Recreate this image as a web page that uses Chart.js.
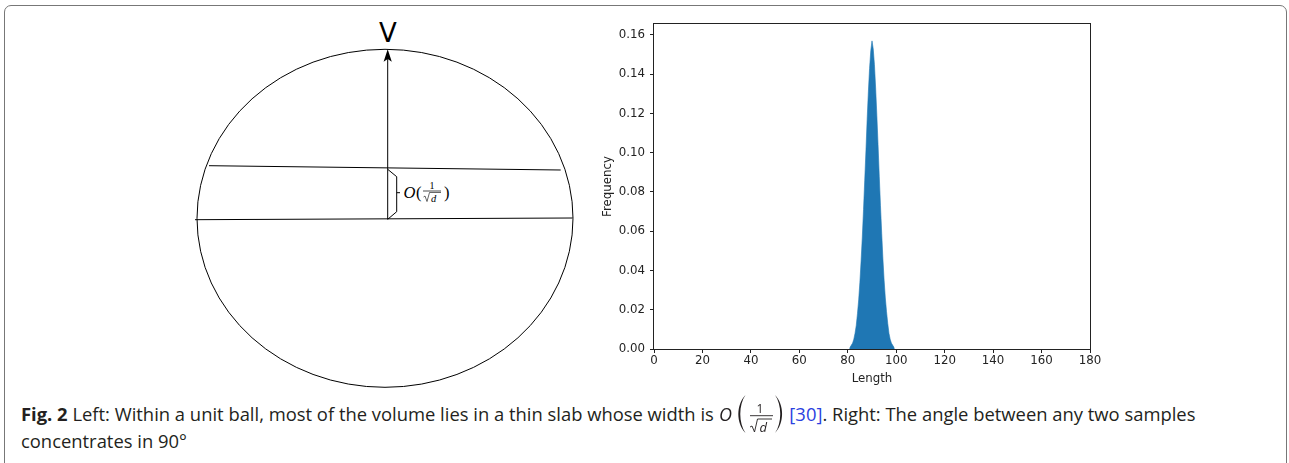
<!DOCTYPE html>
<html>
<head>
<meta charset="utf-8">
<script src="https://cdn.jsdelivr.net/npm/chart.js@4.4.0/dist/chart.umd.min.js"></script>
<style>
  body { margin: 0; width: 1289px; height: 463px; background: #fff; position: relative; overflow: hidden; }
  #frame { position: absolute; left: 4px; top: 5px; width: 1281px; height: 520px; border: 1.5px solid #777; border-radius: 7px; }
  #diagram { position: absolute; left: 0; top: 0; }
  #wrap { position: absolute; left: 590px; top: 20px; width: 520px; height: 375px; }
  .cap { position: absolute; left: 21px; font-family: 'Open Sans', sans-serif; font-size: 18.4px; line-height: 20px; color: #231f20; white-space: nowrap; }
  .math { display: inline-block; position: relative; width: 66px; height: 16px; }
  .math svg { position: absolute; left: 0; top: -12px; overflow: visible; }
  .ref { color: #2b3fe0; }
</style>
</head>
<body>
<div id="frame"></div>

<svg id="diagram" width="600" height="400">
  <g fill="none" stroke="#000" stroke-width="1">
    <ellipse cx="385" cy="218.3" rx="188" ry="169"></ellipse>
    <line x1="209" y1="165.7" x2="560.7" y2="170"></line>
    <line x1="195" y1="219.7" x2="572.7" y2="218"></line>
    <line x1="387.7" y1="219.3" x2="387.7" y2="58"></line>
    <path d="M387.7,169.3 L396.7,176.7 L396.7,211.7 L387.7,219.3"></path>
    <line x1="396.7" y1="192.7" x2="400" y2="192.7"></line>
  </g>
  <path d="M387.7,49.3 L391.8,61.7 L387.7,59 L383.6,61.7 Z" fill="#000"></path>
  <text x="388" y="42" text-anchor="middle" font-family="DejaVu Sans" font-size="26">V</text>
  <g font-family="Liberation Serif" fill="#000">
    <text x="403.5" y="198" font-size="16.5" font-style="italic">O</text>
    <text x="416" y="198" font-size="16.5">(</text>
    <text x="432" y="188.5" font-size="10" text-anchor="middle">1</text>
    <line x1="423" y1="191" x2="441" y2="191" stroke="#000" stroke-width="0.7"></line>
    <path d="M423.5,197 L425,196 L427,201.5 L429.5,192.5 L441,192.5" fill="none" stroke="#000" stroke-width="0.6"></path>
    <text x="431" y="201.5" font-size="10.5" font-style="italic">d</text>
    <text x="444" y="198" font-size="16.5">)</text>
  </g>
</svg>

<div id="wrap"><canvas id="hist"></canvas></div>

<div class="cap" style="top:404px"><b>Fig. 2</b> Left: Within a unit ball, most of the volume lies in a thin slab whose width is <span class="math"><svg width="66" height="40">
  <text x="0" y="28" font-family="Open Sans" font-size="18" font-style="italic" fill="#231f20">O</text>
  <path d="M26.5,2 C17,12 17,30 26.5,40 C19.5,30 19.5,12 26.5,2 Z" fill="#231f20"></path>
  <text x="41" y="20" font-family="Open Sans" font-size="12" text-anchor="middle" fill="#231f20">1</text>
  <line x1="31" y1="22.7" x2="54" y2="22.7" stroke="#231f20" stroke-width="0.9"></line>
  <path d="M31,34 L33,33 L35.5,39 L38.5,26 L53,26" fill="none" stroke="#231f20" stroke-width="0.9"></path>
  <text x="40.5" y="38.5" font-family="Open Sans" font-size="13" font-style="italic" fill="#231f20">d</text>
  <path d="M56,2 C65.5,12 65.5,30 56,40 C63,30 63,12 56,2 Z" fill="#231f20"></path>
</svg></span> <span class="ref">[30]</span>. Right: The angle between any two samples</div>
<div class="cap" style="top:431px">concentrates in 90°</div>

<script>
// angle histogram, bin width 0.5 degrees
const binWidth = 0.5;
const binCenters = [81.0, 81.5, 82.0, 82.5, 83.0, 83.5, 84.0, 84.5, 85.0, 85.5,
  86.0, 86.5, 87.0, 87.5, 88.0, 88.5, 89.0, 89.5, 90.0, 90.5,
  91.0, 91.5, 92.0, 92.5, 93.0, 93.5, 94.0, 94.5, 95.0, 95.5,
  96.0, 96.5, 97.0, 97.5, 98.0, 98.5, 99.0];
const frequency = [0.001, 0.002, 0.003, 0.005, 0.008, 0.012, 0.018, 0.025, 0.034, 0.045,
  0.057, 0.071, 0.086, 0.101, 0.117, 0.131, 0.143, 0.152, 0.157, 0.153,
  0.145, 0.133, 0.119, 0.104, 0.088, 0.073, 0.059, 0.046, 0.035, 0.026,
  0.019, 0.013, 0.008, 0.005, 0.003, 0.002, 0.001];
const xTicks = [0, 20, 40, 60, 80, 100, 120, 140, 160, 180];
const yTicks = [0, 0.02, 0.04, 0.06, 0.08, 0.10, 0.12, 0.14, 0.16];

// outline through the bin tops, closed to zero at the outer bin edges
const pts = binCenters.map((c, i) => ({ x: c, y: frequency[i] }));
pts.unshift({ x: binCenters[0] - binWidth / 2, y: 0 });
pts.push({ x: binCenters[binCenters.length - 1] + binWidth / 2, y: 0 });

const tickFont = { family: 'DejaVu Sans', size: 11.8 };

const frame = {
  id: 'frame',
  afterDraw(chart) {
    const { ctx, chartArea: a } = chart;
    ctx.save();
    ctx.strokeStyle = '#222';
    ctx.lineWidth = 1;
    ctx.strokeRect(Math.round(a.left) - 0.5, Math.round(a.top) - 0.5, Math.round(a.right - a.left) + 1, Math.round(a.bottom - a.top) + 1);
    ctx.restore();
  }
};

new Chart(document.getElementById('hist'), {
  type: 'line',
  data: {
    datasets: [{
      data: pts,
      fill: 'origin',
      tension: 0,
      backgroundColor: '#1f77b4',
      borderColor: '#1f77b4',
      borderWidth: 0.6,
      pointRadius: 0
    }]
  },
  options: {
    responsive: true,
    maintainAspectRatio: false,
    animation: false,
    layout: { padding: { top: 4, right: 20, bottom: 0, left: 0 } },
    plugins: { legend: { display: false }, tooltip: { enabled: false } },
    scales: {
      x: {
        type: 'linear',
        min: 0,
        max: 180,
        afterBuildTicks: s => { s.ticks = xTicks.map(v => ({ value: v })); },
        afterFit: s => { s.height = 46; s.paddingLeft = 0; s.paddingRight = 0; },
        ticks: { font: tickFont, color: '#222', padding: 1, maxRotation: 0, callback: v => String(v) },
        grid: { drawOnChartArea: false, tickLength: 4, tickColor: '#222', tickWidth: 1 },
        border: { display: false },
        title: { display: true, text: 'Length', font: tickFont, color: '#222', padding: { top: 0, bottom: 9 } }
      },
      y: {
        min: 0,
        max: 0.1656,
        afterBuildTicks: s => { s.ticks = yTicks.map(v => ({ value: v })); },
        afterFit: s => { s.width = 64; s.paddingTop = 0; s.paddingBottom = 0; },
        ticks: { font: tickFont, color: '#222', padding: 5, callback: v => v.toFixed(2) },
        grid: { drawOnChartArea: false, tickLength: 4, tickColor: '#222', tickWidth: 1 },
        border: { display: false },
        title: { display: true, text: 'Frequency', font: tickFont, color: '#222', padding: { top: 10.5, bottom: 0 } }
      }
    }
  },
  plugins: [frame]
});
</script>
</body>
</html>
